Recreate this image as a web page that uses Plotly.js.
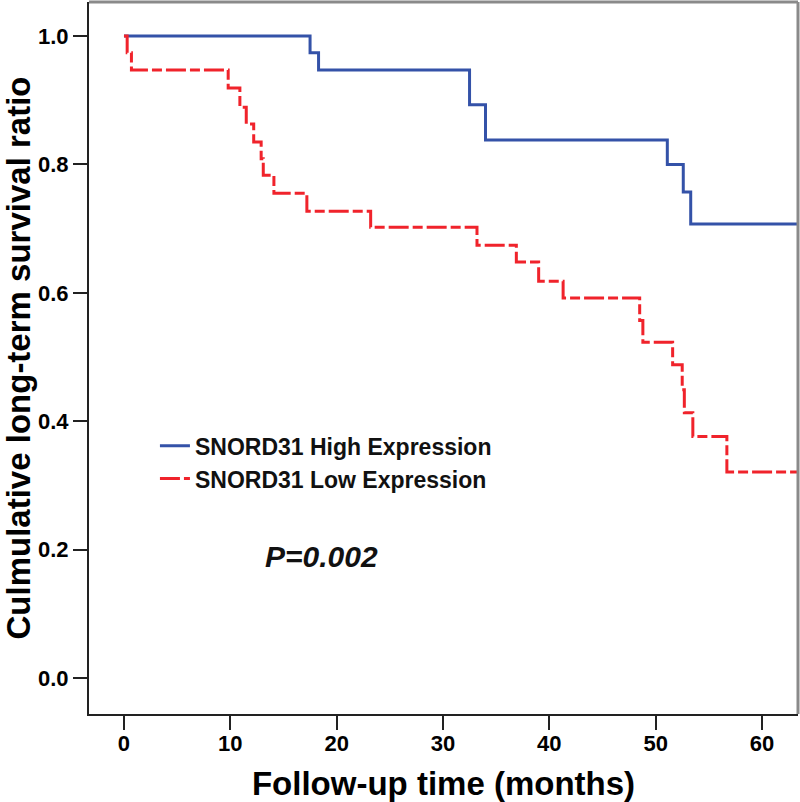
<!DOCTYPE html>
<html>
<head>
<meta charset="utf-8">
<script src="https://cdn.plot.ly/plotly-3.0.1.min.js"></script>
<style>
  html, body { margin: 0; padding: 0; background: #fff; }
  #chart { width: 800px; height: 802px; }
</style>
</head>
<body>
<div id="chart"></div>
<script>
// Kaplan-Meier steps (months, survival ratio)
const highTime = [0, 17.5, 18.3, 32.5, 34.0, 51.1, 52.6, 53.3, 64];
const highSurv = [1.0, 0.974, 0.947, 0.893, 0.838, 0.800, 0.757, 0.707, 0.707];

const lowTime = [0, 0.3, 0.7, 9.8, 10.9, 11.5, 12.2, 12.9, 13.1, 14.1, 17.2, 23.2,
  33.2, 36.9, 39.0, 41.3, 48.5, 48.8, 51.6, 52.5, 52.7, 53.5, 56.7, 64];
const lowSurv = [1.0, 0.974, 0.947, 0.919, 0.889, 0.863, 0.835, 0.809, 0.783, 0.755, 0.727, 0.702,
  0.674, 0.648, 0.618, 0.592, 0.557, 0.523, 0.488, 0.449, 0.413, 0.376, 0.321, 0.321];

const groupNames = ['SNORD31 High Expression', 'SNORD31 Low Expression'];
const xTicks = [0, 10, 20, 30, 40, 50, 60];
const yTicks = [0.0, 0.2, 0.4, 0.6, 0.8, 1.0];
const pText = 'P=0.002';

const COLORS = { high: '#3452a8', low: '#f0232b', frame: '#8a8a8a' };
const FONT = "'Liberation Sans', Arial, sans-serif";

const traces = [
  {
    x: highTime, y: highSurv,
    type: 'scatter', mode: 'lines',
    name: groupNames[0],
    line: { color: COLORS.high, width: 3, shape: 'hv' },
  },
  {
    x: lowTime, y: lowSurv,
    type: 'scatter', mode: 'lines',
    name: groupNames[1],
    line: { color: COLORS.low, width: 3, shape: 'hv', dash: '20px,4px,10px,4px' },
  },
];

const layout = {
  width: 800, height: 802,
  margin: { t: 2, r: 2, b: 88, l: 89 },
  paper_bgcolor: '#fff',
  plot_bgcolor: '#fff',
  font: { family: FONT, color: '#000' },
  showlegend: true,
  legend: {
    x: 0.093, y: 0.407, xanchor: 'left', yanchor: 'top',
    bgcolor: 'rgba(0,0,0,0)', borderwidth: 0,
    font: { family: FONT, size: 23, weight: 'bold', color: '#111' },
    tracegroupgap: 0,
  },
  xaxis: {
    range: [-3.29, 63.39],
    tickvals: xTicks,
    ticktext: xTicks.map(String),
    ticks: 'outside', ticklen: 14, tickwidth: 2, tickcolor: '#222',
    ticklabelstandoff: -5,
    showline: true, linecolor: '#222', linewidth: 2,
    showgrid: false, zeroline: false,
    tickfont: { family: FONT, size: 22, weight: 'bold' },
    title: { text: 'Follow-up time (months)', font: { family: FONT, size: 33, weight: 'bold' }, standoff: 18 },
  },
  yaxis: {
    range: [-0.0561, 1.053],
    tickvals: yTicks,
    ticktext: yTicks.map(v => v.toFixed(1)),
    ticks: 'outside', ticklen: 14, tickwidth: 2, tickcolor: '#222',
    showline: true, linecolor: '#222', linewidth: 2,
    showgrid: false, zeroline: false,
    tickfont: { family: FONT, size: 22, weight: 'bold' },
    title: { text: 'Culmulative long-term survival ratio', font: { family: FONT, size: 33, weight: 'bold' }, standoff: 10 },
  },
  shapes: [
    // grey top and right frame
    { type: 'line', xref: 'paper', yref: 'paper', x0: 0, x1: 1, y0: 1, y1: 1, line: { color: COLORS.frame, width: 3 } },
    { type: 'line', xref: 'paper', yref: 'paper', x0: 1, x1: 1, y0: 0, y1: 1, line: { color: COLORS.frame, width: 3 } },
  ],
  annotations: [
    {
      x: 18.6, y: 0.19, xref: 'x', yref: 'y',
      text: '<b><i>' + pText + '</i></b>', showarrow: false,
      font: { family: FONT, size: 30, color: '#111' },
    },
  ],
};

Plotly.newPlot('chart', traces, layout, { displayModeBar: false, responsive: false });
</script>
</body>
</html>
